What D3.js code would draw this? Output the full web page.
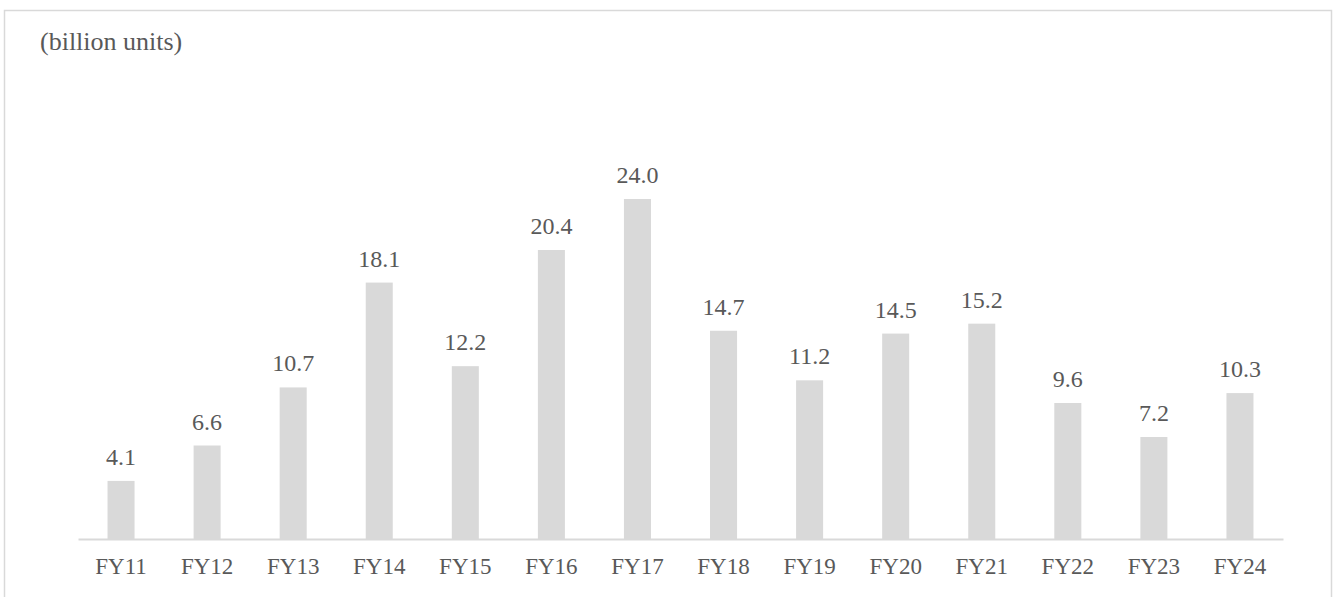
<!DOCTYPE html>
<html>
<head>
<meta charset="utf-8">
<script src="https://cdn.jsdelivr.net/npm/d3@7"></script>
<style>
  html, body { margin: 0; padding: 0; background: #ffffff; }
  svg { display: block; }
</style>
</head>
<body>
<svg id="chart" width="1336" height="597"></svg>
<script>
// Annual volume by fiscal year
const categories = ["FY11", "FY12", "FY13", "FY14", "FY15", "FY16", "FY17", "FY18", "FY19", "FY20", "FY21", "FY22", "FY23", "FY24"];
const values = [4.1, 6.6, 10.7, 18.1, 12.2, 20.4, 24.0, 14.7, 11.2, 14.5, 15.2, 9.6, 7.2, 10.3];
const unitLabel = "(billion units)";

const FONT = "'Liberation Serif', 'Times New Roman', serif";
const TEXT_COLOR = "#595959";

const svg = d3.select("#chart");
const W = 1336, H = 597;

// Outer frame
svg.append("rect")
  .attr("x", 4.5).attr("y", 10.5)
  .attr("width", W - 9).attr("height", H + 20)
  .attr("fill", "#ffffff")
  .attr("stroke", "#d9d9d9")
  .attr("stroke-width", 1.5);

const plot = { left: 78, right: 1283, top: 114, bottom: 539 };

const x = d3.scaleBand()
  .domain(categories)
  .range([plot.left, plot.right])
  .paddingInner(0.686)
  .paddingOuter(0.343);

const y = d3.scaleLinear()
  .domain([0, 30])
  .range([plot.bottom, plot.top]);

// Bars
svg.append("g")
  .selectAll("rect")
  .data(values)
  .join("rect")
  .attr("x", (d, i) => x(categories[i]))
  .attr("y", d => y(d))
  .attr("width", x.bandwidth())
  .attr("height", d => y(0) - y(d))
  .attr("fill", "#d9d9d9");

// Category axis
const xAxis = d3.axisBottom(x).tickSize(0).tickPadding(0);
const gx = svg.append("g")
  .attr("transform", `translate(0,${plot.bottom})`)
  .call(xAxis);
gx.select(".domain").attr("stroke", "#d9d9d9").attr("stroke-width", 2);
gx.selectAll(".tick text")
  .attr("dy", null)
  .attr("y", 35)
  .attr("font-size", 23)
  .style("font-family", FONT)
  .style("font-size", "23px")
  .attr("fill", TEXT_COLOR);

// Value labels
svg.append("g")
  .selectAll("text")
  .data(values)
  .join("text")
  .attr("x", (d, i) => x(categories[i]) + x.bandwidth() / 2)
  .attr("y", d => y(d) - 16)
  .attr("text-anchor", "middle")
  .style("font-family", FONT)
  .style("font-size", "24px")
  .attr("fill", TEXT_COLOR)
  .text(d => d.toFixed(1));

// Unit caption
svg.append("text")
  .attr("x", 40)
  .attr("y", 50)
  .style("font-family", FONT)
  .style("font-size", "26px")
  .attr("fill", TEXT_COLOR)
  .text(unitLabel);
</script>
</body>
</html>
